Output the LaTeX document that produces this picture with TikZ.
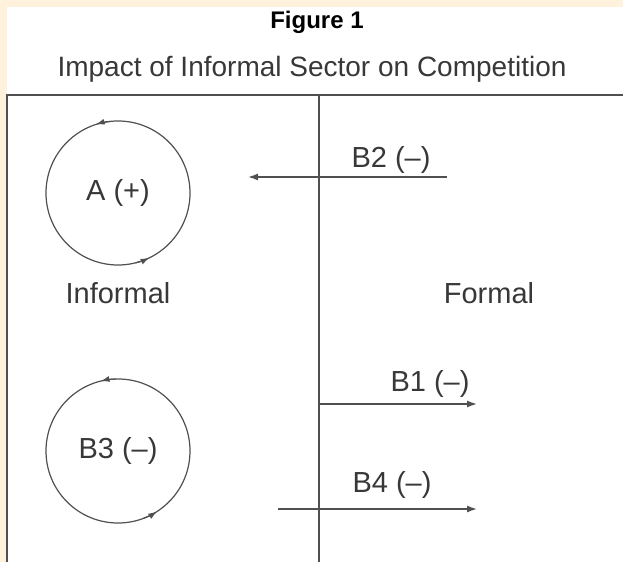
\documentclass[tikz,border=0pt]{standalone}
\usepackage{fontspec}
\setmainfont{Liberation Sans}
\usetikzlibrary{arrows.meta}
\definecolor{creamedge}{HTML}{FFF2DC}
\definecolor{rulegray}{HTML}{505050}
\definecolor{textgray}{HTML}{383838}

\begin{document}
\begin{tikzpicture}[x=1pt, y=1pt,
    rule/.style={draw=rulegray, line width=1.4pt},
    flow/.style={draw=rulegray, line width=1.4pt, -{Latex[length=10pt,width=7pt]}},
    looptip/.style={draw=rulegray, line width=1.2pt, -{Latex[length=9pt,width=6pt]}},
    loopring/.style={circle, draw=rulegray, line width=1.2pt, minimum size=144pt, inner sep=0pt, outer sep=0pt, font=\fontsize{29}{33}\selectfont, text=textgray},
    lbl/.style={anchor=base, inner sep=0pt, font=\fontsize{29}{33}\selectfont, text=textgray}]

    % background strip and white sheet
    \fill[creamedge] (0,0) rectangle (623,562);
    \fill[white] (7,0) rectangle (623,555);
    \useasboundingbox (0,0) rectangle (623,562);

    % titles
    \node[anchor=base, inner sep=0pt, font=\bfseries\fontsize{24}{27}\selectfont] (figno) at (317,533) {Figure 1};
    \node[anchor=base, inner sep=0pt, font=\fontsize{28}{32}\selectfont, text=textgray] (caption) at (312,485) {Impact of Informal Sector on Competition};

    % frame and divider
    \coordinate (frameTL) at (7,467);
    \coordinate (frameTR) at (623,467);
    \coordinate (frameBL) at (7,0);
    \coordinate (divTop) at (319,467);
    \coordinate (divBot) at (319,0);
    \draw[rule] (frameBL) -- (frameTL) -- (frameTR);
    \draw[rule] (divTop) -- (divBot);

    % loops on the informal side
    \node[loopring] (loopA) at (118,369) {A (+)};
    \node[loopring] (loopBthree) at (118,111) {B3 (–)};
    \draw[looptip] (loopA.96) arc[start angle=96, end angle=108, radius=72];
    \draw[looptip] (loopA.284) arc[start angle=284, end angle=296, radius=72];
    \draw[looptip] (loopBthree.92) arc[start angle=92, end angle=104, radius=72];
    \draw[looptip] (loopBthree.291) arc[start angle=291, end angle=303, radius=72];

    \node[lbl] (sideInformal) at (118,258) {Informal};
    \node[lbl] (sideFormal) at (489,258) {Formal};

    % arrows across the divider
    \coordinate (b2from) at (447,385);
    \coordinate (b2to) at (248,385);
    \draw[flow] (b2from) -- (b2to);
    \node[lbl] (labBtwo) at (391,394) {B2 (–)};

    \coordinate (b1from) at (319,158);
    \coordinate (b1to) at (477,158);
    \draw[flow] (b1from) -- (b1to);
    \node[lbl] (labBone) at (430,170) {B1 (–)};

    \coordinate (b4from) at (278,53);
    \coordinate (b4to) at (477,53);
    \draw[flow] (b4from) -- (b4to);
    \node[lbl] (labBfour) at (392,70) {B4 (–)};
\end{tikzpicture}
\end{document}
